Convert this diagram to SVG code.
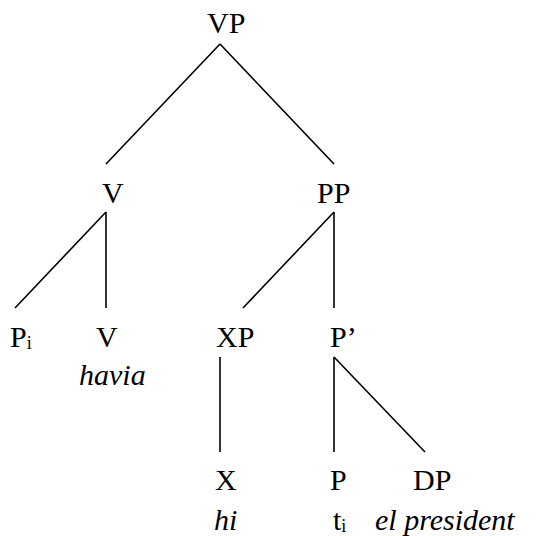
<svg xmlns="http://www.w3.org/2000/svg" width="550" height="536" viewBox="0 0 550 536">
<style>
text{font-family:"Liberation Serif","Times New Roman",serif;font-size:30px;fill:#000}
.it{font-style:italic}
.sub{font-size:18px}
.c line{stroke:#000;stroke-width:1.6;fill:none}
</style>
<rect width="550" height="536" fill="#fff"/>
<g class="c" id="connectors">
<line x1="220" y1="44" x2="106" y2="164"/>
<line x1="220" y1="44" x2="334" y2="164"/>
<line x1="106" y1="212" x2="15" y2="308"/>
<line x1="106" y1="212" x2="106" y2="308"/>
<line x1="334" y1="212" x2="243" y2="308"/>
<line x1="334" y1="212" x2="334" y2="308"/>
<line x1="220" y1="357" x2="220" y2="452"/>
<line x1="334" y1="357" x2="334" y2="452"/>
<line x1="334" y1="357" x2="425" y2="452"/>
</g>
<g id="n-vp"><text x="207" y="33">VP</text></g>
<g id="n-v1"><text x="102" y="203">V</text></g>
<g id="n-pp"><text x="317" y="203">PP</text></g>
<g id="n-pi"><text x="10" y="347">P<tspan class="sub" dy="2">i</tspan></text></g>
<g id="n-v2"><text x="96" y="347">V</text><text class="it" x="79" y="385">havia</text></g>
<g id="n-xp"><text x="216" y="347">XP</text></g>
<g id="n-pbar"><text x="330" y="347">P’</text></g>
<g id="n-x"><text x="215" y="490">X</text><text class="it" x="214" y="530">hi</text></g>
<g id="n-p"><text x="330" y="490">P</text><text x="333" y="530">t<tspan class="sub" dy="2">i</tspan></text></g>
<g id="n-dp"><text x="413" y="490">DP</text><text class="it" x="375" y="530">el president</text></g>
</svg>
